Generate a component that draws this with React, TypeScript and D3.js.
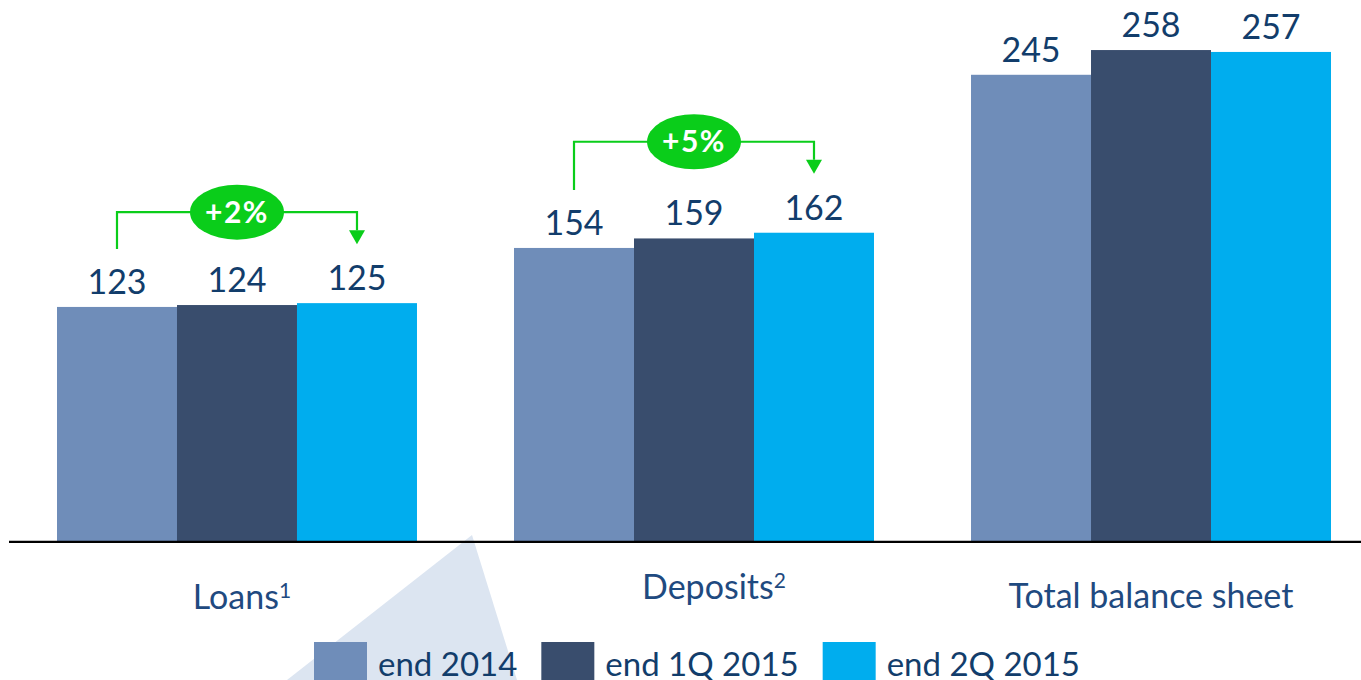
import React, { useEffect, useRef } from "react";
import * as d3 from "d3";

const categories = ["Loans", "Deposits", "Total balance sheet"];
const footnotes = ["1", "2", ""];
const seriesNames = ["end 2014", "end 1Q 2015", "end 2Q 2015"];
const end2014 = [123, 154, 245];
const end1Q2015 = [124, 159, 258];
const end2Q2015 = [125, 162, 257];
const growthLabels = ["+2%", "+5%", ""];

const W = 1361;
const H = 680;
const COLORS = ["#6f8db9", "#394d6d", "#00adee"];
const VALUE_COLOR = "#123d6b";
const CAT_COLOR = "#1f4a80";
const GREEN = "#0acd1a";
const FONT = "Lato, 'Open Sans', sans-serif";
const FS = 34;

export default function App() {
  const ref = useRef<SVGSVGElement | null>(null);

  useEffect(() => {
    const svg = d3.select(ref.current);
    svg.selectAll("*").remove();

    const series = [end2014, end1Q2015, end2Q2015];
    const baseY = 541;
    const x0 = d3.scaleBand<string>().domain(categories).range([57, 1331]).paddingInner(0.2123).paddingOuter(0);
    const x1 = d3.scaleBand<string>().domain(seriesNames).range([0, x0.bandwidth()]).padding(0);
    const y = d3.scaleLinear().domain([0, 284.3]).range([baseY, 0]);

    // decorative background triangle
    svg.append("polygon")
      .attr("points", "472,535 287,680 517,680")
      .attr("fill", "#dce5f1");

    // bars
    categories.forEach((cat, ci) => {
      const g = svg.append("g").attr("transform", `translate(${x0(cat)},0)`);
      seriesNames.forEach((s, si) => {
        const v = series[si][ci];
        g.append("rect")
          .attr("x", x1(s)!)
          .attr("y", y(v))
          .attr("width", x1.bandwidth())
          .attr("height", baseY - y(v))
          .attr("fill", COLORS[si]);
        g.append("text")
          .attr("x", x1(s)! + x1.bandwidth() / 2)
          .attr("y", y(v) - 13)
          .attr("text-anchor", "middle")
          .attr("font-family", FONT)
          .attr("font-size", FS)
          .attr("fill", VALUE_COLOR)
          .text(String(v));
      });
    });

    // baseline
    svg.append("line")
      .attr("x1", 9).attr("x2", W)
      .attr("y1", baseY + 0.8).attr("y2", baseY + 0.8)
      .attr("stroke", "#000").attr("stroke-width", 2.2);

    // category labels
    const labelShift: Record<string, [number, number]> = {
      Loans: [5, 609],
      Deposits: [20, 599],
      "Total balance sheet": [0, 608],
    };
    categories.forEach((cat, ci) => {
      const [dx, by] = labelShift[cat];
      const t = svg.append("text")
        .attr("x", x0(cat)! + x0.bandwidth() / 2 + dx)
        .attr("y", by)
        .attr("text-anchor", "middle")
        .attr("font-family", FONT)
        .attr("font-size", FS)
        .attr("fill", CAT_COLOR);
      t.append("tspan").text(cat);
      if (footnotes[ci]) {
        t.append("tspan").attr("dy", -11).attr("font-size", 21).text(footnotes[ci]);
      }
    });

    // growth annotations
    categories.forEach((cat, ci) => {
      const label = growthLabels[ci];
      if (!label) return;
      const gx = x0(cat)!;
      const xa = gx + x1(seriesNames[0])! + x1.bandwidth() / 2;
      const xb = gx + x1(seriesNames[2])! + x1.bandwidth() / 2;
      const vStart = series[0][ci];
      const vEnd = series[2][ci];
      const vMax = Math.max(...series.map((s) => s[ci]));
      const yStart = y(vStart) - 13 - 23 - 22;
      const yTip = y(vEnd) - 13 - 23 - 23;
      const yH = y(vMax) - 13 - 23 - 55;
      const headH = 14;
      const headW = 8;
      svg.append("path")
        .attr("d", `M${xa},${yStart}V${yH}H${xb}V${yTip - headH}`)
        .attr("fill", "none")
        .attr("stroke", GREEN)
        .attr("stroke-width", 2.2);
      svg.append("path")
        .attr("d", `M${xb - headW},${yTip - headH}L${xb + headW},${yTip - headH}L${xb},${yTip}Z`)
        .attr("fill", GREEN);
      const cx = gx + x0.bandwidth() / 2;
      svg.append("ellipse")
        .attr("cx", cx).attr("cy", yH)
        .attr("rx", 47).attr("ry", 27.5)
        .attr("fill", GREEN);
      svg.append("text")
        .attr("x", cx).attr("y", yH + 10.5)
        .attr("text-anchor", "middle")
        .attr("font-family", FONT)
        .attr("font-weight", "bold")
        .attr("font-size", 30)
        .attr("letter-spacing", 1.5)
        .attr("fill", "#fff")
        .text(label);
    });

    // legend
    let lx = 314;
    const sq = 53;
    seriesNames.forEach((s, si) => {
      svg.append("rect")
        .attr("x", lx).attr("y", 642)
        .attr("width", sq).attr("height", sq)
        .attr("fill", COLORS[si]);
      const t = svg.append("text")
        .attr("x", lx + sq + 11)
        .attr("y", 676)
        .attr("font-family", FONT)
        .attr("font-size", 33)
        .attr("fill", VALUE_COLOR)
        .text(s);
      const w = (t.node() as SVGTextElement).getComputedTextLength();
      lx = lx + sq + 11 + w + 24;
    });
  }, []);

  return (
    <svg
      ref={ref}
      width={W}
      height={H}
      style={{ position: "absolute", left: 0, top: 0, display: "block", background: "#fff" }}
    />
  );
}
